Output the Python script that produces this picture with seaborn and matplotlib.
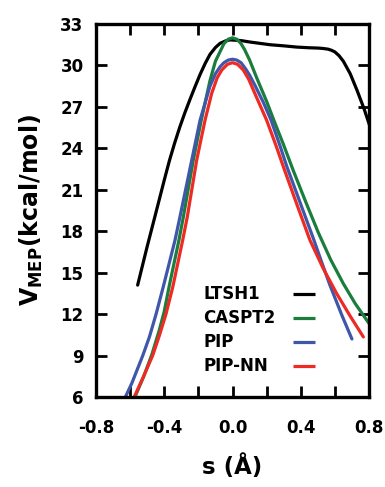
import matplotlib
matplotlib.use("Agg")
import matplotlib.pyplot as plt
import seaborn as sns
import pandas as pd
from matplotlib.ticker import FixedLocator

# ---- data ----
ltsh1_s = [-0.556, -0.50, -0.454, -0.40, -0.37, -0.34, -0.31, -0.28, -0.249, -0.22, -0.19,
           -0.16, -0.132, -0.10, -0.073, -0.04, -0.015, 0.05, 0.10, 0.22, 0.30, 0.376,
           0.45, 0.50, 0.53, 0.56, 0.58, 0.60, 0.625, 0.65, 0.69, 0.73, 0.77, 0.80, 0.83]
ltsh1_v = [14.1, 16.9, 19.1, 21.7, 23.1, 24.35, 25.5, 26.55, 27.55, 28.45, 29.35,
           30.15, 30.8, 31.3, 31.6, 31.78, 31.85, 31.8, 31.7, 31.5, 31.42, 31.33,
           31.28, 31.26, 31.23, 31.18, 31.1, 30.98, 30.7, 30.3, 29.4, 28.2, 26.9, 25.8, 24.6]

caspt2_s = [-0.585, -0.572, -0.52, -0.472, -0.43, -0.40, -0.372, -0.314, -0.288, -0.23,
            -0.183, -0.132, -0.10, -0.05, -0.025, 0.0, 0.025, 0.05, 0.07, 0.10, 0.142,
            0.20, 0.245, 0.298, 0.356, 0.43, 0.503, 0.575, 0.65, 0.72, 0.796, 0.83]
caspt2_v = [5.6, 6.0, 7.5, 9.1, 10.8, 12.2, 13.97, 17.35, 19.04, 23.14,
            26.04, 28.9, 30.31, 31.58, 31.9, 32.0, 31.9, 31.58, 31.17, 30.4, 29.1,
            27.4, 25.95, 24.3, 22.4, 20.1, 17.9, 15.95, 14.2, 12.75, 11.4, 10.85]

pip_s = [-0.65, -0.628, -0.59, -0.526, -0.487, -0.448, -0.406, -0.337, -0.308, -0.239,
         -0.19, -0.132, -0.10, -0.073, -0.05, -0.025, 0.0, 0.025, 0.05, 0.077, 0.10,
         0.132, 0.18, 0.226, 0.278, 0.318, 0.40, 0.474, 0.52, 0.571, 0.64, 0.70]
pip_v = [5.5, 6.0, 7.0, 9.0, 10.35, 12.0, 13.97, 17.35, 19.04, 23.14,
         26.04, 28.5, 29.4, 29.9, 30.2, 30.39, 30.45, 30.39, 30.2, 29.75, 29.3,
         28.55, 27.35, 26.04, 24.2, 22.7, 19.95, 17.47, 15.85, 14.1, 11.95, 10.2]

pipnn_s = [-0.59, -0.576, -0.53, -0.468, -0.43, -0.39, -0.35, -0.292, -0.265, -0.21,
           -0.161, -0.122, -0.09, -0.063, -0.03, 0.0, 0.03, 0.063, 0.095, 0.13, 0.20,
           0.255, 0.30, 0.38, 0.454, 0.53, 0.61, 0.69, 0.767]
pipnn_v = [5.6, 6.0, 7.25, 9.0, 10.4, 12.0, 13.97, 17.35, 19.04, 23.14,
           26.04, 27.98, 29.1, 29.67, 30.08, 30.2, 30.08, 29.67, 29.0, 28.0, 26.04,
           24.2, 22.6, 19.85, 17.35, 15.35, 13.5, 11.85, 10.35]

labels = ["LTSH1", "CASPT2", "PIP", "PIP-NN"]
colors = ["#000000", "#1b7d3c", "#3e57a8", "#ee2a24"]
series = [(ltsh1_s, ltsh1_v), (caspt2_s, caspt2_v), (pip_s, pip_v), (pipnn_s, pipnn_v)]

xticks = [-0.8, -0.4, 0.0, 0.4, 0.8]
xminor = [-0.6, -0.2, 0.2, 0.6]
yticks = [6, 9, 12, 15, 18, 21, 24, 27, 30, 33]

# ---- style ----
sns.set_style("ticks")
plt.rcParams["font.family"] = ["DejaVu Sans"]
plt.rcParams["font.weight"] = "bold"
plt.rcParams["mathtext.fontset"] = "dejavusans"
for k in ["text.color", "axes.labelcolor", "xtick.color", "ytick.color", "axes.edgecolor"]:
    plt.rcParams[k] = "black"

fig = plt.figure(figsize=(3.85, 4.87), dpi=100)
ax = fig.add_axes([0.2494, 0.1848, 0.7090, 0.7659])

for (s, v), lab, col in zip(series, labels, colors):
    df = pd.DataFrame({"s": s, "V": v})
    sns.lineplot(data=df, x="s", y="V", ax=ax, color=col, lw=2.3,
                 sort=False, estimator=None, legend=False)
for ln in ax.get_lines():
    ln.set_solid_joinstyle("round")

ax.set_xlim(-0.8, 0.8)
ax.set_ylim(6, 33)
ax.xaxis.set_major_locator(FixedLocator(xticks))
ax.xaxis.set_minor_locator(FixedLocator(xminor))
ax.set_xticklabels([f"{t:.1f}" for t in xticks])
ax.yaxis.set_major_locator(FixedLocator(yticks))
ax.set_yticklabels([str(t) for t in yticks])

for sp in ax.spines.values():
    sp.set_linewidth(2.4)
    sp.set_visible(True)
    sp.set_color("black")

ax.tick_params(axis="both", which="both", direction="in", length=8, width=2.0,
               top=True, right=True, color="black")
ax.tick_params(axis="x", which="major", labelsize=12, pad=16, labelcolor="black")
ax.tick_params(axis="y", which="major", labelsize=12, pad=9, labelcolor="black")
for t in ax.get_xticklabels() + ax.get_yticklabels():
    t.set_fontweight("bold")

ax.set_xlabel("s (Å)", fontsize=16.5, fontweight="bold", labelpad=12, color="black")
ax.set_ylabel(r"$\mathbf{V_{MEP}}$(kcal/mol)", fontsize=17, fontweight="bold",
              labelpad=11, color="black")

# legend (text left, line sample right)
text_y = [0.262, 0.198, 0.134, 0.070]
for lab, col, ty in zip(labels, colors, text_y):
    ax.text(0.392, ty, lab, transform=ax.transAxes, fontsize=12, fontweight="bold",
            ha="left", va="baseline", color="black")
    ax.plot([0.722, 0.802], [ty + 0.014, ty + 0.014], transform=ax.transAxes,
            color=col, lw=2.3, solid_capstyle="butt")

fig.savefig("out.png", dpi=100)
